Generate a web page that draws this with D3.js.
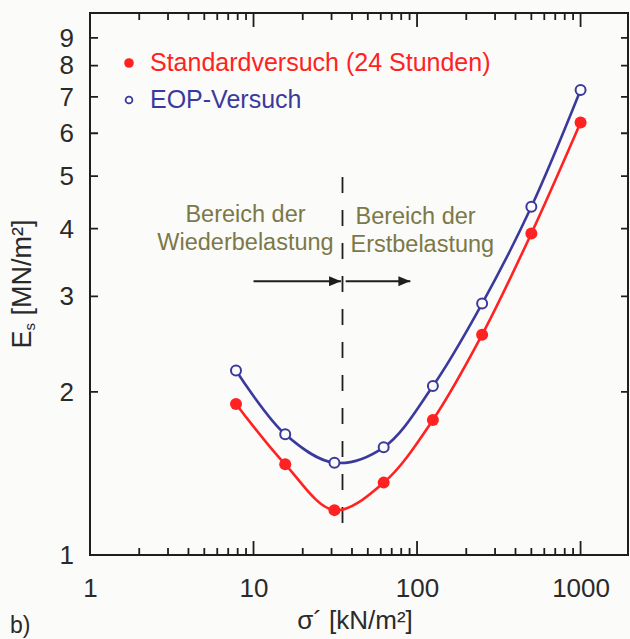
<!DOCTYPE html>
<html>
<head>
<meta charset="utf-8">
<script src="https://cdn.jsdelivr.net/npm/d3@7"></script>
<style>
  html, body { margin: 0; padding: 0; background: #fbfbf9; }
  svg { display: block; font-family: Arial, "Liberation Sans", sans-serif; }
</style>
</head>
<body>
<svg id="chart" width="630" height="639"></svg>
<script>
// Effective stress steps (kN/m²) and stiffness modulus Es (MN/m²)
const sigma = [7.8125, 15.625, 31.25, 62.5, 125, 250, 500, 1000];
const esStandard = [1.90, 1.47, 1.21, 1.36, 1.775, 2.55, 3.92, 6.28];
const esEOP = [2.19, 1.67, 1.48, 1.58, 2.05, 2.91, 4.39, 7.21];
const seriesNames = ["Standardversuch (24 Stunden)", "EOP-Versuch"];

// Axis ticks
const xMajorTicks = [1, 10, 100, 1000];
const xMinorFactors = [2, 3, 4, 5, 6, 7, 8, 9];
const yTicks = [1, 2, 3, 4, 5, 6, 7, 8, 9];

// Preload stress separating reloading and virgin loading
const preloadSigma = 35;
const arrowEs = 3.2;
const arrowLeft = [10, 34.3];
const arrowRight = [36.6, 91];
const regionLabels = [["Bereich der", "Wiederbelastung"], ["Bereich der", "Erstbelastung"]];

const svg = d3.select("#chart");
const plotLeft = 90, plotRight = 628, plotTop = 13, plotBottom = 555;

const x = d3.scaleLog().domain([1, 1950]).range([plotLeft, plotRight]);
const y = d3.scaleLog().domain([1, 10]).range([plotBottom, plotTop]);

const ink = "#1e1e1e";
const red = "#ff2222";
const blue = "#3b3a9c";
const olive = "#7c7848";

// Minor tick values across all decades in the domain
const xMinor = [];
xMajorTicks.forEach(d => xMinorFactors.forEach(f => {
  const v = d * f;
  if (v <= x.domain()[1]) xMinor.push(v);
}));

// Tick labels via d3 axes
function labelAxis(g) {
  g.select(".domain").remove();
  g.selectAll(".tick line").remove();
  g.selectAll(".tick text").attr("fill", "#2a2a2a").attr("font-size", 26)
    .attr("font-family", "Arial, 'Liberation Sans', sans-serif");
}
svg.append("g").attr("transform", `translate(0,${plotBottom})`)
  .call(d3.axisBottom(x).tickValues(xMajorTicks).tickSize(0).tickPadding(24).tickFormat(d3.format("d")))
  .call(labelAxis);
svg.append("g").attr("transform", `translate(${plotLeft},0)`)
  .call(d3.axisLeft(y).tickValues(yTicks).tickSize(0).tickPadding(16).tickFormat(d3.format("d")))
  .call(labelAxis);

// Inward tick marks on all four sides
const tickPath = d3.path();
xMajorTicks.concat(xMinor).forEach(v => {
  const len = xMajorTicks.includes(v) ? 14 : 7;
  tickPath.moveTo(x(v), plotBottom); tickPath.lineTo(x(v), plotBottom - len);
  tickPath.moveTo(x(v), plotTop); tickPath.lineTo(x(v), plotTop + len);
});
yTicks.slice(1).forEach(v => {
  tickPath.moveTo(plotLeft, y(v)); tickPath.lineTo(plotLeft + 8, y(v));
  tickPath.moveTo(plotRight, y(v)); tickPath.lineTo(plotRight - 7, y(v));
});
svg.append("path").attr("d", tickPath.toString())
  .attr("fill", "none").attr("stroke", ink).attr("stroke-width", 1.8);

// Frame
svg.append("rect")
  .attr("x", plotLeft).attr("y", plotTop)
  .attr("width", plotRight - plotLeft).attr("height", plotBottom - plotTop)
  .attr("fill", "none").attr("stroke", ink).attr("stroke-width", 2);

// Axis titles
const yTitle = svg.append("text")
  .attr("transform", `translate(31,${(plotTop + plotBottom) / 2}) rotate(-90)`)
  .attr("text-anchor", "middle")
  .attr("font-size", 27).attr("fill", "#2a2a2a");
yTitle.append("tspan").text("E");
yTitle.append("tspan").attr("font-size", 15).attr("dy", 4).text("s");
yTitle.append("tspan").attr("dy", -4).text(" [MN/m²]");

svg.append("text")
  .attr("x", (plotLeft + plotRight) / 2 - 4).attr("y", 629)
  .attr("text-anchor", "middle")
  .attr("font-size", 26).attr("fill", "#2a2a2a")
  .text("σ´ [kN/m²]");

svg.append("text")
  .attr("x", 10).attr("y", 633)
  .attr("font-size", 23).attr("fill", "#2a2a2a")
  .text("b)");

// Preload divider and loading-region annotations
const xp = x(preloadSigma);
svg.append("line")
  .attr("x1", xp).attr("x2", xp)
  .attr("y1", 177).attr("y2", 526)
  .attr("stroke", ink).attr("stroke-width", 1.8)
  .attr("stroke-dasharray", "16,17");

svg.append("defs").append("marker")
  .attr("id", "arrowhead")
  .attr("viewBox", "0 0 12 10")
  .attr("refX", 12).attr("refY", 5)
  .attr("markerWidth", 12).attr("markerHeight", 10)
  .attr("markerUnits", "userSpaceOnUse")
  .attr("orient", "auto")
  .append("path").attr("d", "M0,0 L12,5 L0,10 Z").attr("fill", ink);

[arrowLeft, arrowRight].forEach(a => {
  svg.append("line")
    .attr("x1", x(a[0])).attr("x2", x(a[1]))
    .attr("y1", y(arrowEs)).attr("y2", y(arrowEs))
    .attr("stroke", ink).attr("stroke-width", 2)
    .attr("marker-end", "url(#arrowhead)");
});

const annot = svg.append("g").attr("font-size", 23.5).attr("fill", olive);
annot.append("text").attr("x", xp - 97).attr("y", 222).attr("text-anchor", "middle").text(regionLabels[0][0]);
annot.append("text").attr("x", xp - 97).attr("y", 250).attr("text-anchor", "middle").text(regionLabels[0][1]);
annot.append("text").attr("x", xp + 13).attr("y", 224).text(regionLabels[1][0]);
annot.append("text").attr("x", xp + 8).attr("y", 252).text(regionLabels[1][1]);

// Curves
const line = d3.line().curve(d3.curveCatmullRom.alpha(0.5));
const ptsStd = sigma.map((s, i) => [x(s), y(esStandard[i])]);
const ptsEOP = sigma.map((s, i) => [x(s), y(esEOP[i])]);

svg.append("path").attr("d", line(ptsEOP))
  .attr("fill", "none").attr("stroke", blue).attr("stroke-width", 2.6);
svg.append("path").attr("d", line(ptsStd))
  .attr("fill", "none").attr("stroke", red).attr("stroke-width", 2.6);

svg.append("g").selectAll("circle").data(ptsEOP).join("circle")
  .attr("cx", d => d[0]).attr("cy", d => d[1]).attr("r", 5)
  .attr("fill", "#fbfbf9").attr("stroke", blue).attr("stroke-width", 2);
svg.append("g").selectAll("circle").data(ptsStd).join("circle")
  .attr("cx", d => d[0]).attr("cy", d => d[1]).attr("r", 6)
  .attr("fill", red);

// Legend
const legend = svg.append("g").attr("font-size", 25);
legend.append("circle").attr("cx", 129).attr("cy", 63).attr("r", 4.8).attr("fill", red);
legend.append("text").attr("x", 150).attr("y", 71).attr("fill", red).text(seriesNames[0]);
legend.append("circle").attr("cx", 129).attr("cy", 100).attr("r", 3.4)
  .attr("fill", "none").attr("stroke", blue).attr("stroke-width", 1.8);
legend.append("text").attr("x", 150).attr("y", 108).attr("fill", blue).text(seriesNames[1]);
</script>
</body>
</html>
